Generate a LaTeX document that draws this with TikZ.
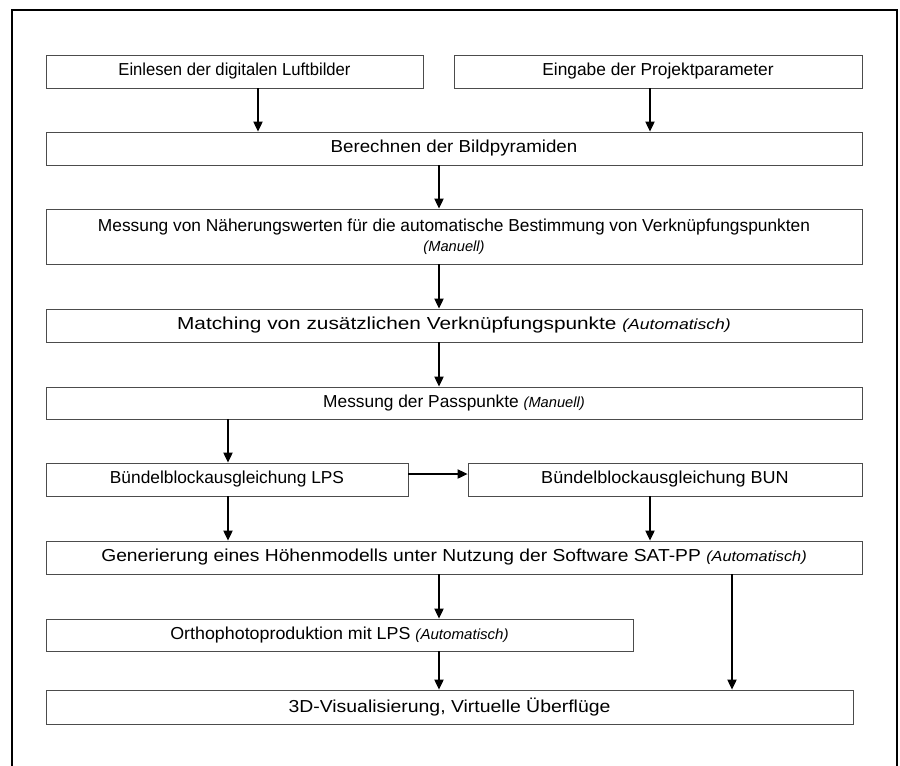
\documentclass[tikz,border=0pt]{standalone}
\usepackage{fontspec}
\setmainfont{Liberation Sans}
\usetikzlibrary{arrows.meta}

\tikzset{
  box/.style={draw=black!70, line width=0.7pt, rectangle, inner sep=0pt, font=\fontsize{13}{15}\selectfont, align=center},
  arr/.style={line width=0.8pt, -{Triangle[width=7pt,length=7.5pt]}}
}
\newcommand{\hint}[1]{{\fontsize{11}{13}\selectfont\itshape #1}}
\newcommand{\widen}[2]{\scalebox{#1}[1]{#2}}

\begin{document}
\begin{tikzpicture}[x=0.75pt, y=-0.75pt]

    \useasboundingbox (0,0) rectangle (900,765);

    % Outer frame
    \draw[line width=1.6pt] (12,770) -- (12,10) -- (897,10) -- (897,770);

    % Boxes
    \node[box, minimum width=282.75pt, minimum height=24.75pt] (b1) at (234.5,71.5) {\widen{0.96}{Einlesen der digitalen Luftbilder}};
    \node[box, minimum width=306pt, minimum height=24.75pt] (b2) at (658,71.5) {Eingabe der Projektparameter};
    \node[box, minimum width=612pt, minimum height=24.75pt] (b3) at (454,148.5) {\widen{1.08}{Berechnen der Bildpyramiden}};
    \node[box, minimum width=612pt, minimum height=41.25pt] (b4) at (454,236.5) {Messung von Näherungswerten für die automatische Bestimmung von Verknüpfungspunkten\\[0pt] \hint{(Manuell)}};
    \node[box, minimum width=612pt, minimum height=24.75pt] (b5) at (454,325.5) {\widen{1.2}{Matching von zusätzlichen Verknüpfungspunkte \hint{(Automatisch)}}};
    \node[box, minimum width=612pt, minimum height=24pt] (b6) at (454,403) {Messung der Passpunkte \hint{(Manuell)}};
    \node[box, minimum width=271.5pt, minimum height=24.75pt] (b7) at (227,479.5) {Bündelblockausgleichung LPS};
    \node[box, minimum width=295.5pt, minimum height=24.75pt] (b8) at (665,479.5) {\widen{1.04}{Bündelblockausgleichung BUN}};
    \node[box, minimum width=612pt, minimum height=24.75pt] (b9) at (454,557.5) {\widen{1.11}{Generierung eines Höhenmodells unter Nutzung der Software SAT-PP \hint{(Automatisch)}}};
    \node[box, minimum width=440.25pt, minimum height=24pt] (b10) at (339.5,635) {\widen{1.03}{Orthophotoproduktion mit LPS \hint{(Automatisch)}}};
    \node[box, minimum width=605.25pt, minimum height=25.5pt] (b11) at (449.5,707) {\widen{1.12}{3D-Visualisierung, Virtuelle Überflüge}};

    % Arrow columns
    \coordinate (cA) at (258,0);
    \coordinate (cB) at (650,0);
    \coordinate (cC) at (439,0);
    \coordinate (cD) at (228,0);
    \coordinate (cE) at (732,0);
    \coordinate (rA) at (0,474);

    % Arrows
    \draw[arr] (b1.south -| cA) -- (b3.north -| cA);
    \draw[arr] (b2.south -| cB) -- (b3.north -| cB);
    \draw[arr] (b3.south -| cC) -- (b4.north -| cC);
    \draw[arr] (b4.south -| cC) -- (b5.north -| cC);
    \draw[arr] (b5.south -| cC) -- (b6.north -| cC);
    \draw[arr] (b6.south -| cD) -- (b7.north -| cD);
    \draw[arr] (b7.east |- rA) -- (b8.west |- rA);
    \draw[arr] (b7.south -| cD) -- (b9.north -| cD);
    \draw[arr] (b8.south -| cB) -- (b9.north -| cB);
    \draw[arr] (b9.south -| cC) -- (b10.north -| cC);
    \draw[arr] (b9.south -| cE) -- (b11.north -| cE);
    \draw[arr] (b10.south -| cC) -- (b11.north -| cC);

\end{tikzpicture}
\end{document}
